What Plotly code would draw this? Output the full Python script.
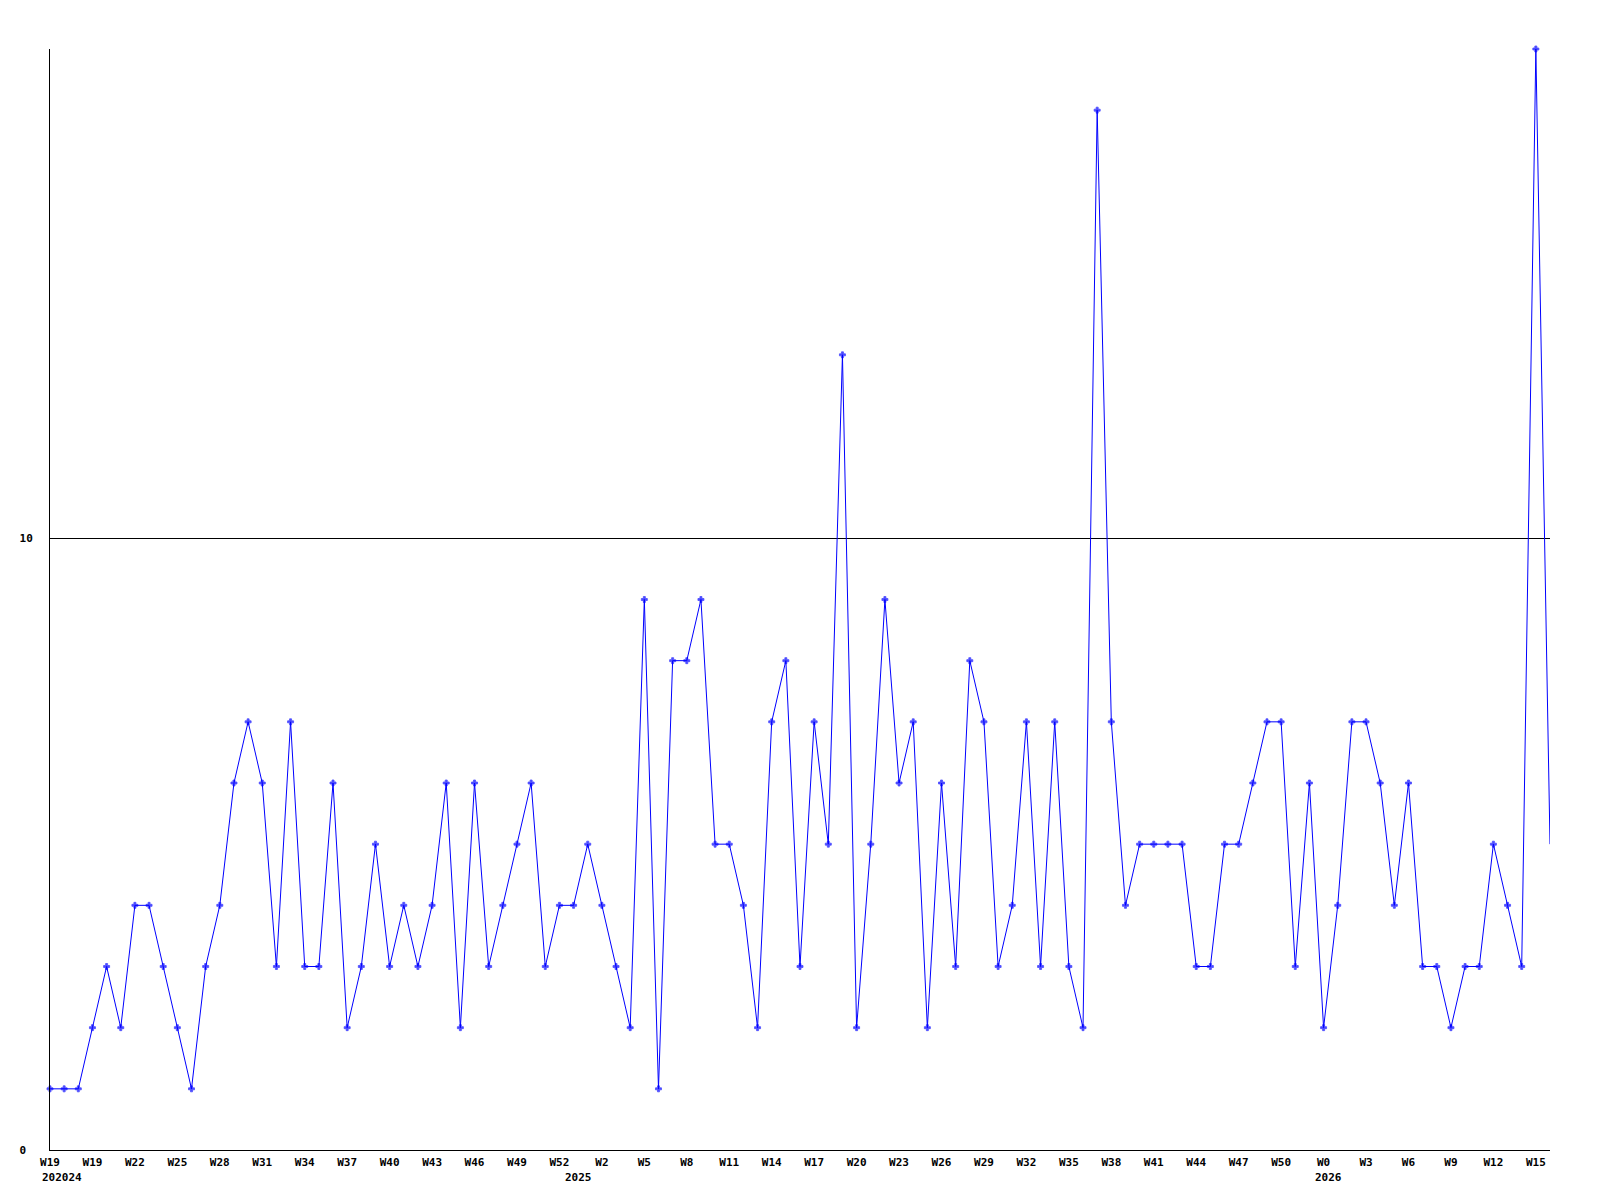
import plotly.graph_objects as go

# Weekly counts (one value per week, in order)
values = [1, 1, 1, 2, 3, 2, 4, 4, 3, 2,
          1, 3, 4, 6, 7, 6, 3, 7, 3, 3,
          6, 2, 3, 5, 3, 4, 3, 4, 6, 2,
          6, 3, 4, 5, 6, 3, 4, 4, 5, 4,
          3, 2, 9, 1, 8, 8, 9, 5, 5, 4,
          2, 7, 8, 3, 7, 5, 13, 2, 5, 9,
          6, 7, 2, 6, 3, 8, 7, 3, 4, 7,
          3, 7, 3, 2, 17, 7, 4, 5, 5, 5,
          5, 3, 3, 5, 5, 6, 7, 7, 3, 6,
          2, 4, 7, 7, 6, 4, 6, 3, 3, 2,
          3, 3, 5, 4, 3, 18, 5]

# Week tick labels (every third week) and their week index
tick_index = [0, 3, 6, 9, 12, 15, 18, 21, 24, 27, 30, 33, 36, 39, 42, 45, 48, 51,
              54, 57, 60, 63, 66, 69, 72, 75, 78, 81, 84, 87, 90, 93, 96, 99, 102, 105]
tick_labels = ["W19", "W19", "W22", "W25", "W28", "W31", "W34", "W37", "W40", "W43",
               "W46", "W49", "W52", "W2", "W5", "W8", "W11", "W14", "W17", "W20",
               "W23", "W26", "W29", "W32", "W35", "W38", "W41", "W44", "W47", "W50",
               "W0", "W3", "W6", "W9", "W12", "W15"]

# Year labels and the week index they start at
year_labels = ["202024", "2025", "2026"]
year_index = [-0.7, 36.25, 89.26]

y_ticks = [0, 10]
y_ticktext = ["0\u00a0", "10"]

FONT = "DejaVu Sans Mono"
n = len(values)
x = list(range(n))
sizes = [5] * (n - 1) + [0]

fig = go.Figure()
fig.add_trace(go.Scatter(
    x=x, y=values, mode="lines+markers",
    line=dict(color="#0000ff", width=1),
    marker=dict(symbol="cross", size=sizes, color="#0000ff",
                line=dict(width=0.8, color="#0000ff")),
    cliponaxis=False, showlegend=False, hoverinfo="skip",
))

x0, x1 = 0, n - 1
for lab, xi in zip(year_labels, year_index):
    fig.add_annotation(
        x=(xi - x0) / (x1 - x0), xref="paper", y=0, yref="paper",
        yshift=-27, xanchor="left", yanchor="middle",
        text=lab, showarrow=False,
        font=dict(family=FONT, size=11, color="black", weight="bold"),
    )

fig.update_layout(
    width=1600, height=1200,
    margin=dict(l=50, r=50, t=49, b=50),
    plot_bgcolor="white", paper_bgcolor="white",
    font=dict(family=FONT, size=11, color="black", weight="bold"),
)
fig.update_xaxes(
    range=[x0, x1], tickvals=tick_index, ticktext=tick_labels,
    showgrid=False, zeroline=False, showline=True, linecolor="black", linewidth=1,
    ticks="", tickfont=dict(family=FONT, size=11, color="black", weight="bold"),
    ticklabelstandoff=2,
)
fig.update_yaxes(
    range=[0, 18], tickvals=y_ticks, ticktext=y_ticktext,
    showgrid=True, gridcolor="black", gridwidth=1,
    zeroline=False, showline=True, linecolor="black", linewidth=1,
    ticks="", tickfont=dict(family=FONT, size=11, color="black", weight="bold"),
    ticklabelstandoff=14,
)

fig.write_html("out.html", config={"displayModeBar": False},
               post_script="document.body.style.margin='0';")
